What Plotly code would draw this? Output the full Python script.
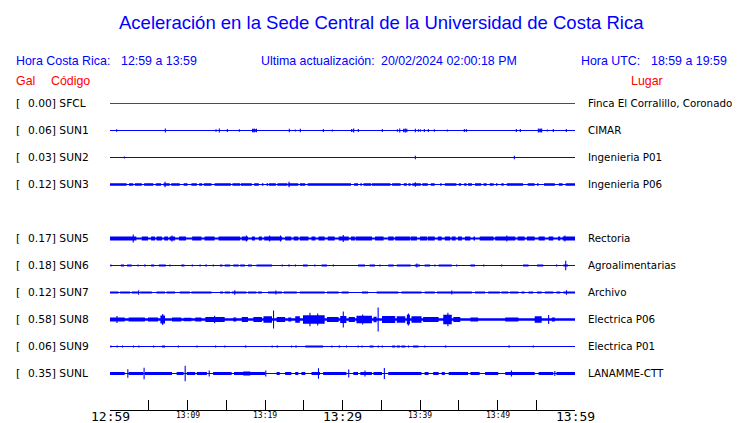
import plotly.graph_objects as go

# ---------------- data ----------------
STATIONS = ["SFCL", "SUN1", "SUN2", "SUN3", "SUN5", "SUN6", "SUN7", "SUN8", "SUN9", "SUNL"]
ROW_INDEX = [0, 1, 2, 3, 5, 6, 7, 8, 9, 10]
PEAK_GAL = [0.00, 0.06, 0.03, 0.12, 0.17, 0.18, 0.12, 0.58, 0.06, 0.35]
PLACES = ["Finca El Corralillo, Coronado", "CIMAR", "Ingenieria P01", "Ingenieria P06",
          "Rectoria", "Agroalimentarias", "Archivo", "Electrica P06", "Electrica P01", "LANAMME-CTT"]
TRACE_COLORS = ["#ff0000"] + ["#0000ff"] * 9

# time axis: minutes after 12:59 local time
TICK_MIN = list(range(0, 61, 5))
TICK_LABELS = ["12:59", "", "13:09", "", "13:19", "", "13:29", "", "13:39", "", "13:49", "", "13:59"]
TICK_BIG = [True, False, False, False, False, False, True, False, False, False, False, False, True]

# background noise half-amplitude (display units) per station
BASE_AMP = [0, 0, 0, 0, 1.1, 0, 0, 1.3, 0, 0]

# bursts: (start min, end min, half amplitude)
SFCL_BURSTS = []
SFCL_SPIKES = []

SUN1_BURSTS = [(18.4, 18.9, 1.2), (31.3, 31.5, 1.0), (37.9, 38.3, 1.0), (55.3, 55.7, 1.2)]
SUN1_SPIKES = [(0.86, 1.3), (7.14, 2), (13.68, 1.3), (14.11, 2), (15.14, 1.5), (16.69, 1.3),
               (18.4, 1.8), (18.6, 2), (18.9, 1.8), (23.14, 1.8), (23.91, 1), (24.56, 1.8),
               (27.53, 1.5), (28.69, 1), (31.18, 1.5), (31.44, 2), (32.04, 1.5), (35.14, 1.5),
               (37.08, 1.3), (37.38, 2), (37.9, 1.8), (38.1, 2), (38.3, 1.8), (39.4, 1.8),
               (39.8, 1.3), (40.04, 1.3), (40.56, 1.5), (41.08, 1.5), (41.85, 1.3), (43.53, 1),
               (45.72, 1.5), (45.98, 1.5), (52.43, 1.5), (52.95, 1.5), (55.27, 2), (55.5, 2),
               (55.7, 2), (56.43, 1), (57.2, 1.5), (58.88, 1.5)]

SUN2_BURSTS = []
SUN2_SPIKES = [(1.85, 1.0), (39.4, 1.8), (52.17, 1.8)]

SUN3_BURSTS = [(0.0, 2.15, 1.2), (2.45, 3.0, 1.2), (3.2, 4.1, 1.2), (4.4, 5.6, 1.2), (5.9, 6.6, 1.2),
               (6.9, 7.7, 1.2), (7.9, 9.0, 1.2), (9.5, 10.0, 1.2), (10.5, 11.2, 1.2), (11.5, 11.9, 1.2),
               (12.1, 13.1, 1.2), (13.5, 15.6, 1.2), (15.8, 16.8, 1.2), (16.9, 18.3, 1.2),
               (18.6, 19.2, 1.2), (19.6, 19.8, 1.2), (20.2, 20.4, 1.2), (20.5, 21.4, 1.2),
               (21.6, 22.9, 1.2), (23.0, 24.3, 1.2), (24.5, 25.2, 1.2), (25.5, 31.1, 1.2),
               (31.5, 32.0, 1.2), (32.3, 32.5, 1.2), (32.7, 33.7, 1.2), (33.8, 36.2, 1.2),
               (36.4, 37.5, 1.2), (37.9, 38.3, 1.2), (38.5, 38.8, 1.2), (39.0, 40.1, 1.2),
               (40.3, 41.0, 1.2), (41.4, 41.9, 1.2), (42.6, 42.8, 1.2), (43.2, 44.7, 1.2),
               (45.0, 45.3, 1.2), (45.7, 46.0, 1.2), (46.2, 46.7, 1.2), (47.1, 47.9, 1.2),
               (48.2, 48.6, 1.2), (49.0, 49.5, 1.2), (49.8, 50.0, 1.2), (50.5, 50.8, 1.2),
               (51.2, 53.3, 1.2), (53.9, 54.8, 1.2), (55.1, 55.3, 1.2), (56.0, 57.4, 1.2),
               (57.9, 58.4, 1.2), (58.8, 60.0, 1.2)]
SUN3_SPIKES = [(7.1, 2.7), (23.1, 2.7), (39.4, 2.3)]

SUN5_BURSTS = [(0, 3.4, 1.9), (4.1, 4.9, 1.9), (5.3, 5.8, 1.9), (6.0, 6.7, 1.9), (7.0, 7.5, 1.9),
               (7.7, 8.4, 1.9), (8.9, 9.8, 1.9), (10.6, 11.8, 1.9), (12.2, 13.5, 1.9), (14.0, 16.8, 1.9),
               (17.0, 17.8, 1.9), (18.3, 18.7, 1.9), (19.2, 19.6, 1.9), (19.9, 22.2, 1.9),
               (22.6, 23.4, 1.9), (23.7, 24.3, 1.9), (24.5, 25.6, 1.9), (26.0, 26.5, 1.9),
               (26.9, 27.7, 1.9), (28.1, 29.0, 1.9), (29.5, 30.8, 1.9), (31.1, 31.6, 1.9),
               (31.7, 33.8, 1.9), (34.2, 35.3, 1.9), (35.9, 36.6, 1.9), (36.8, 38.7, 1.9),
               (38.8, 39.6, 1.9), (40.0, 40.9, 1.9), (41.0, 41.9, 1.9), (42.3, 42.8, 1.9),
               (43.2, 43.9, 1.9), (44.1, 44.6, 1.9), (44.9, 45.4, 1.9), (45.8, 46.5, 1.9),
               (46.9, 47.1, 1.9), (47.7, 49.5, 1.9), (49.7, 52.3, 1.9), (52.6, 53.5, 1.9),
               (53.8, 54.8, 1.9), (55.3, 56.1, 1.9), (56.6, 57.2, 1.9), (57.8, 58.1, 1.9),
               (58.4, 60.0, 1.9)]
SUN5_SPIKES = [(3.0, 4), (8.0, 3), (17.6, 3), (20.6, 3), (22.0, 3), (30.1, 3.5), (51.2, 3), (58.7, 3)]

SUN6_BURSTS = [(0.05, 0.2, 1.0), (1.4, 1.8, 1.0), (2.2, 2.8, 1.0), (3.55, 3.7, 1.0), (4.4, 4.6, 1.0),
               (5.3, 5.7, 1.0), (6.3, 7.2, 1.0), (7.65, 7.8, 1.0), (9.2, 9.6, 1.0), (10.55, 10.7, 1.0),
               (11.55, 11.7, 1.0), (12.3, 12.5, 1.0), (13.25, 13.4, 1.0), (14.2, 14.5, 1.0),
               (14.8, 15.5, 1.0), (15.9, 16.6, 1.0), (16.8, 17.4, 1.0), (17.8, 18.3, 1.0),
               (18.9, 20.9, 1.0), (22.15, 22.3, 1.0), (23.0, 23.2, 1.0), (23.85, 24.0, 1.0),
               (24.9, 25.5, 1.0), (26.35, 26.5, 1.0), (27.3, 28.0, 1.0), (28.75, 28.9, 1.0),
               (32.0, 32.9, 1.0), (33.5, 34.2, 1.0), (34.75, 34.9, 1.0), (35.9, 36.6, 1.0),
               (37.0, 38.8, 1.0), (39.3, 40.0, 1.0), (40.6, 41.3, 1.0), (41.85, 42.0, 1.0),
               (42.4, 44.1, 1.0), (44.65, 44.8, 1.0), (46.5, 47.1, 1.0), (48.15, 48.3, 1.0),
               (50.45, 50.6, 1.0), (53.3, 54.0, 1.0), (55.1, 55.9, 1.0), (57.55, 57.7, 1.0),
               (58.5, 59.1, 1.0)]
SUN6_SPIKES = [(39.6, 2.0), (58.8, 4.7)]

SUN7_BURSTS = [(0, 1.1, 1.1), (1.3, 2.6, 1.1), (2.8, 3.7, 1.1), (3.9, 5.4, 1.1), (6.0, 7.1, 1.1),
               (7.3, 8.4, 1.1), (9.0, 10.3, 1.1), (10.5, 13.1, 1.1), (14.2, 14.6, 1.1), (14.8, 15.5, 1.1),
               (15.7, 17.6, 1.1), (17.8, 18.9, 1.1), (19.1, 19.6, 1.1), (20.4, 22.2, 1.1),
               (22.4, 24.1, 1.1), (24.5, 27.7, 1.1), (28.0, 29.5, 1.1), (29.9, 30.8, 1.1),
               (32.5, 33.3, 1.1), (34.4, 37.2, 1.1), (37.6, 40.2, 1.1), (40.6, 41.9, 1.1),
               (42.2, 46.7, 1.1), (47.1, 48.4, 1.1), (48.8, 50.3, 1.1), (50.5, 51.4, 1.1),
               (51.6, 52.7, 1.1), (53.1, 53.5, 1.1), (54.0, 54.6, 1.1), (55.1, 55.7, 1.1),
               (56.1, 57.2, 1.1), (57.6, 58.1, 1.1), (58.5, 60.0, 1.1)]
SUN7_SPIKES = [(3.7, 2.3), (16.1, 2.3), (21.4, 2.0), (44.1, 2.0), (58.9, 2.3)]

SUN8_BURSTS = [(0, 1.9, 2.0), (2.4, 4.5, 2.0), (4.9, 6.2, 2.0), (6.5, 7.1, 4.0), (8.0, 9.2, 2.0),
               (9.5, 10.5, 1.8), (11.0, 11.8, 2.0), (12.3, 14.8, 2.5), (15.9, 16.3, 2.0),
               (17.0, 17.8, 2.5), (18.5, 19.6, 2.5), (19.8, 20.9, 3.2), (21.5, 22.6, 2.5),
               (23.0, 23.4, 2.0), (23.9, 24.5, 3.2), (24.9, 27.7, 4.3), (28.0, 29.5, 2.5),
               (29.7, 30.5, 3.6), (30.8, 31.6, 2.5), (31.8, 33.8, 3.8), (34.0, 34.4, 2.8),
               (35.1, 36.8, 3.6), (37.0, 38.1, 3.2), (38.3, 38.7, 4.8), (38.9, 40.2, 3.2),
               (40.4, 42.4, 2.5), (43.0, 44.1, 4.8), (44.3, 45.2, 2.5), (46.5, 47.5, 2.0),
               (51.0, 52.7, 2.0), (54.8, 55.7, 3.2), (57.0, 57.4, 2.0)]
SUN8_SPIKES = [(0.9, 3.5), (6.8, 5.5), (13.5, 3.8), (21.1, 9.0), (25.8, 6.7), (26.8, 6.0),
               (30.1, 8.0), (32.6, 5.0), (34.6, 12.0), (38.5, 6.0), (43.6, 6.7), (56.6, 4.5)]

SUN9_BURSTS = [(0.05, 0.2, 0.9), (0.85, 1.0, 0.9), (1.55, 1.7, 0.9), (2.95, 3.1, 0.9),
               (3.65, 3.8, 0.9), (5.55, 5.7, 0.9), (6.7, 7.1, 0.9), (8.75, 8.9, 0.9),
               (11.15, 11.3, 0.9), (13.55, 13.7, 0.9), (14.75, 14.9, 0.9), (17.4, 17.6, 0.9),
               (20.85, 21.0, 0.9), (21.5, 21.7, 0.9), (23.35, 23.5, 0.9), (23.9, 24.1, 0.9),
               (25.2, 27.5, 0.9), (28.55, 28.7, 0.9), (29.5, 29.7, 0.9), (30.45, 30.6, 0.9),
               (31.95, 32.1, 0.9), (32.45, 32.6, 0.9), (33.5, 34.0, 0.9), (34.55, 34.7, 0.9),
               (35.05, 35.2, 0.9), (36.4, 36.8, 0.9), (37.0, 37.4, 0.9), (37.6, 38.1, 0.9),
               (38.45, 38.6, 0.9), (39.1, 39.8, 0.9), (40.55, 40.7, 0.9), (43.2, 43.4, 0.9),
               (51.4, 51.6, 0.9), (54.55, 54.7, 0.9)]
SUN9_SPIKES = []

SUNL_BURSTS = [(0, 1.9, 1.4), (2.4, 4.3, 1.4), (4.5, 8.0, 1.4), (8.6, 9.5, 1.4), (9.9, 11.0, 1.4),
               (11.2, 12.5, 1.4), (13.3, 15.7, 1.4), (16.0, 20.0, 1.4), (17.2, 18.1, 2.1),
               (21.5, 21.9, 1.4), (22.6, 23.4, 1.4), (23.9, 24.3, 1.4), (24.7, 25.2, 1.4),
               (26.0, 27.1, 1.4), (27.5, 30.5, 1.4), (31.4, 32.0, 1.4), (32.3, 33.8, 1.4),
               (34.0, 35.1, 1.4), (35.9, 40.2, 1.4), (40.6, 41.1, 1.4), (41.7, 42.4, 1.4),
               (42.8, 43.2, 1.4), (43.7, 46.2, 1.4), (46.5, 47.7, 1.4), (48.4, 50.1, 1.4),
               (51.0, 54.8, 1.4), (55.3, 57.2, 1.4), (57.6, 60.0, 1.4)]
SUNL_SPIKES = [(2.3, 4.3), (4.4, 5.7), (9.7, 7.7), (12.8, 3.0), (20.1, 3.0), (26.9, 5.3),
               (30.8, 4.0), (32.9, 3.0), (35.4, 5.5), (51.8, 3.0), (57.4, 2.5)]

BURSTS = [SFCL_BURSTS, SUN1_BURSTS, SUN2_BURSTS, SUN3_BURSTS, SUN5_BURSTS, SUN6_BURSTS,
          SUN7_BURSTS, SUN8_BURSTS, SUN9_BURSTS, SUNL_BURSTS]
SPIKES = [SFCL_SPIKES, SUN1_SPIKES, SUN2_SPIKES, SUN3_SPIKES, SUN5_SPIKES, SUN6_SPIKES,
          SUN7_SPIKES, SUN8_SPIKES, SUN9_SPIKES, SUNL_SPIKES]

# ---------------- layout geometry (page pixels) ----------------
PAGE_W, PAGE_H = 740, 423
BODY = 8                              # default page margin around the plot div
W, H = PAGE_W - BODY, PAGE_H - BODY
PL, PR, PT, PB = 110, 575, 90, 410    # plot area in page pixels
ROW = 27                              # vertical offset between traces (display units = px)
FIRST = 103.5                         # page y of first trace (pixel centre)
BLUE = "#0000ff"
RED = "#ff0000"


def offset(row):
    return -ROW * row


def px_x(px):
    return (px - PL) / (PR - PL)


def px_y(py):
    return (PB - py) / (PB - PT)


fig = go.Figure()

for name, row, base, bursts, spikes, col in zip(STATIONS, ROW_INDEX, BASE_AMP, BURSTS, SPIKES, TRACE_COLORS):
    y0 = offset(row)
    polys = list(bursts)
    if base > 0:
        polys = [(0, 60, base)] + polys
    if polys:
        xs, ys = [], []
        for t0, t1, a in polys:
            xs += [t0, t1, t1, t0, t0, None]
            ys += [y0 - a, y0 - a, y0 + a, y0 + a, y0 - a, None]
        fig.add_trace(go.Scatter(x=xs, y=ys, mode="lines", fill="toself", fillcolor=col,
                                 line=dict(color=col, width=0), hoverinfo="skip", showlegend=False))
    if spikes:
        xs, ys = [], []
        for t, a in spikes:
            xs += [t, t, None]
            ys += [y0 - a, y0 + a, None]
        fig.add_trace(go.Scatter(x=xs, y=ys, mode="lines", line=dict(color=col, width=1.1),
                                 hoverinfo="skip", showlegend=False))
    fig.add_trace(go.Scatter(x=[0, 60], y=[y0, y0], mode="lines", line=dict(color=col, width=1),
                             hoverinfo="skip", showlegend=False))

ann = []
# title
ann.append(dict(text="Aceleración en la Sede Central de la Universidad de Costa Rica",
                x=px_x(381), y=px_y(22), xref="paper", yref="paper", showarrow=False,
                xanchor="center", yanchor="middle",
                font=dict(family="Liberation Sans", size=18.5, color=BLUE)))
# header
for txt, px in [("Hora Costa Rica:", 15), ("12:59 a 13:59", 120), ("Ultima actualización:", 260),
                ("20/02/2024 02:00:18 PM", 380), ("Hora UTC:", 580), ("18:59 a 19:59", 650)]:
    ann.append(dict(text=txt, x=px_x(px), y=px_y(61), xref="paper", yref="paper", showarrow=False,
                    xanchor="left", yanchor="middle", xshift=-1,
                    font=dict(family="Liberation Sans", size=12.4, color=BLUE)))
for txt, px in [("Gal", 15), ("Código", 50), ("Lugar", 630)]:
    ann.append(dict(text=txt, x=px_x(px), y=px_y(81), xref="paper", yref="paper", showarrow=False,
                    xanchor="left", yanchor="middle", xshift=-1,
                    font=dict(family="Liberation Sans", size=12.4, color=RED)))
# station labels
for name, row, g, place in zip(STATIONS, ROW_INDEX, PEAK_GAL, PLACES):
    y0 = offset(row)
    ann.append(dict(text="[", x=px_x(15), y=y0, xref="paper", yref="y", showarrow=False,
                    xanchor="left", yanchor="middle", xshift=-1, yshift=0.5,
                    font=dict(family="DejaVu Sans", size=11, color="black")))
    ann.append(dict(text=f"{g:.2f}] {name}", x=px_x(27), y=y0, xref="paper", yref="y", showarrow=False,
                    xanchor="left", yanchor="middle", xshift=-1, yshift=0.5,
                    font=dict(family="DejaVu Sans", size=10.7, color="black")))
    ann.append(dict(text=place, x=px_x(587), y=y0, xref="paper", yref="y", showarrow=False,
                    xanchor="left", yanchor="middle", xshift=-1, yshift=0.5,
                    font=dict(family="DejaVu Sans", size=10.3, color="black")))
# tick labels
for t, lab, big in zip(TICK_MIN, TICK_LABELS, TICK_BIG):
    if not lab:
        continue
    ann.append(dict(text=lab, x=t, y=px_y(416.5 if big else 415.5), xref="x", yref="paper",
                    showarrow=False, xanchor="center", yanchor="middle", borderpad=0,
                    font=dict(family="DejaVu Sans Mono", size=13 if big else 8, color="black")))

fig.update_layout(
    width=W, height=H,
    margin=dict(l=PL - BODY, r=PAGE_W - PR, t=PT - BODY, b=PAGE_H - PB, pad=0),
    paper_bgcolor="white", plot_bgcolor="white",
    showlegend=False,
    annotations=ann,
    xaxis=dict(range=[0, 60], showgrid=False, zeroline=False, showline=True, linecolor="black",
               linewidth=1, ticks="inside", ticklen=10, tickwidth=1, tickcolor="black",
               tickvals=TICK_MIN, showticklabels=False, fixedrange=True),
    yaxis=dict(range=[offset(0) - (PB - FIRST), offset(0) + (FIRST - PT)], visible=False, fixedrange=True),
)

fig.write_html("out.html", config={"displayModeBar": False})
